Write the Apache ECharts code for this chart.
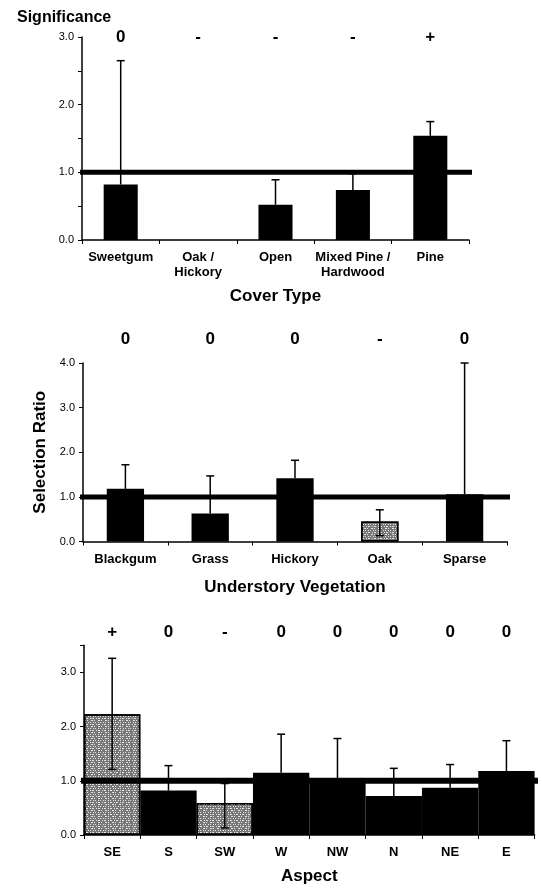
<!DOCTYPE html>
<html>
<head>
<meta charset="utf-8">
<script src="https://cdn.jsdelivr.net/npm/echarts@6/dist/echarts.min.js"></script>
<style>
  html, body { margin: 0; padding: 0; background: #fff; }
  #main { width: 542px; height: 890px; }
</style>
</head>
<body>
<div id="main"></div>
<script>
// cover type panel
const coverTypes = ['Sweetgum', 'Oak /\nHickory', 'Open', 'Mixed Pine /\nHardwood', 'Pine'];
const coverSig = ['0', '-', '-', '-', '+'];
const coverRatio = [0.82, 0, 0.52, 0.74, 1.54];
const coverUpper = [2.65, null, 0.89, 0.98, 1.75];
const coverLower = [null, null, null, null, null];
const coverShaded = [false, false, false, false, false];

// understory panel
const understory = ['Blackgum', 'Grass', 'Hickory', 'Oak', 'Sparse'];
const understorySig = ['0', '0', '0', '-', '0'];
const understoryRatio = [1.18, 0.63, 1.42, 0.45, 1.06];
const understoryUpper = [1.72, 1.47, 1.82, 0.71, 4.0];
const understoryLower = [null, null, null, 0.13, null];
const understoryShaded = [false, false, false, true, false];

// aspect panel
const aspects = ['SE', 'S', 'SW', 'W', 'NW', 'N', 'NE', 'E'];
const aspectSig = ['+', '0', '-', '0', '0', '0', '0', '0'];
const aspectRatio = [2.23, 0.82, 0.59, 1.15, 1.02, 0.72, 0.87, 1.18];
const aspectUpper = [3.26, 1.28, 0.95, 1.86, 1.78, 1.23, 1.30, 1.74];
const aspectLower = [1.21, null, 0.13, null, null, null, null, null];
const aspectShaded = [true, false, true, false, false, false, false, false];

const refValue = 1.0; // selection ratio of 1 = no preference

const FONT = '"Liberation Sans", Arial, Helvetica, sans-serif';

const panels = [
  { cats: coverTypes, sig: coverSig, ratio: coverRatio, upper: coverUpper, lower: coverLower, shaded: coverShaded,
    name: 'Cover Type', grid: { left: 82, top: 37, width: 387, height: 203 },
    yMax: 3, yStep: 0.5, barWidth: '44%', sigMargin: 0, nameGap: 48, refExt: [-0.005, 1.044], refWidth: 5 },
  { cats: understory, sig: understorySig, ratio: understoryRatio, upper: understoryUpper, lower: understoryLower, shaded: understoryShaded,
    name: 'Understory Vegetation', grid: { left: 83, top: 363, width: 424, height: 178.5 },
    yMax: 4, yStep: 1, barWidth: '44%', sigMargin: 24, nameGap: 37, refExt: [-0.007, 1.011], refWidth: 5 },
  { cats: aspects, sig: aspectSig, ratio: aspectRatio, upper: aspectUpper, lower: aspectLower, shaded: aspectShaded,
    name: 'Aspect', grid: { left: 84, top: 645.3, width: 450.6, height: 189.7 },
    yMax: 3.5, yStep: 1, barWidth: '100%', sigMargin: 13, nameGap: 33, refExt: [-0.009, 1.014], refWidth: 6 }
];

// speckled grey fill
const stipple = {
  symbol: 'rect',
  symbolSize: 1,
  dashArrayX: [[1, 1, 2, 2], [2, 1, 1, 3], [1, 2, 1, 1]],
  dashArrayY: [1, 1],
  rotation: 0,
  color: 'rgba(255,255,255,0.8)'
};

const grid = [], xAxis = [], yAxis = [], series = [];
const n = panels.length;

panels.forEach((p, i) => {
  grid.push(p.grid);

  // categories along the bottom
  xAxis.push({
    type: 'category', gridIndex: i, data: p.cats,
    name: p.name, nameLocation: 'middle', nameGap: p.nameGap,
    nameTextStyle: { fontFamily: FONT, fontWeight: 'bold', fontSize: 17, color: '#000' },
    axisLine: { lineStyle: { color: '#000', width: 1.5 } },
    axisTick: { show: true, length: 4, lineStyle: { color: '#000', width: 1 } },
    axisLabel: { fontFamily: FONT, fontWeight: 'bold', fontSize: 13, color: '#000', margin: 10, lineHeight: 15, interval: 0 }
  });
  yAxis.push({
    type: 'value', gridIndex: i, min: 0, max: p.yMax, interval: p.yStep,
    name: i === 1 ? 'Selection Ratio' : '', nameLocation: 'middle', nameGap: 34,
    nameTextStyle: { fontFamily: FONT, fontWeight: 'bold', fontSize: 17, color: '#000' },
    splitLine: { show: false },
    axisLine: { show: true, lineStyle: { color: '#000', width: 1.5 } },
    axisTick: { show: true, length: 4, lineStyle: { color: '#000', width: 1 } },
    axisLabel: {
      fontFamily: FONT, fontSize: 11, color: '#000', margin: 8,
      formatter: v => (Math.abs(v - Math.round(v)) < 1e-9 ? v.toFixed(1) : '')
    }
  });

  // bars
  series.push({
    type: 'bar', xAxisIndex: i, yAxisIndex: i, z: 2,
    barWidth: p.barWidth,
    data: p.ratio.map((v, k) => ({
      value: v,
      itemStyle: p.shaded[k]
        ? { color: '#777', borderColor: '#000', borderWidth: 1.5, decal: stipple }
        : { color: '#000' }
    })),
    silent: true, animation: false
  });

  // error bars
  series.push({
    type: 'custom', xAxisIndex: i, yAxisIndex: i, z: 3,
    data: p.upper.map((hi, k) => hi == null ? null :
      [k, p.lower[k] == null ? p.ratio[k] : p.lower[k], hi, p.lower[k] == null ? 0 : 1]),
    renderItem: function (params, api) {
      const top = api.coord([api.value(0), api.value(2)]);
      const bot = api.coord([api.value(0), api.value(1)]);
      const cap = 4;
      const style = { stroke: '#000', lineWidth: 1.5 };
      const kids = [
        { type: 'line', shape: { x1: top[0], y1: top[1], x2: bot[0], y2: bot[1] }, style: style },
        { type: 'line', shape: { x1: top[0] - cap, y1: top[1], x2: top[0] + cap, y2: top[1] }, style: style }
      ];
      if (api.value(3)) {
        kids.push({ type: 'line', shape: { x1: bot[0] - cap, y1: bot[1], x2: bot[0] + cap, y2: bot[1] }, style: style });
      }
      return { type: 'group', children: kids };
    },
    silent: true, animation: false
  });
});

// significance row above each panel
panels.forEach((p, i) => {
  xAxis.push({
    type: 'category', gridIndex: i, position: 'top', data: p.sig,
    axisLine: { show: false }, axisTick: { show: false },
    axisLabel: { fontFamily: FONT, fontWeight: 'bold', fontSize: 17, color: '#000', margin: p.sigMargin, verticalAlign: 'middle', interval: 0 }
  });
});

// hidden value axes carrying the reference line at ratio 1
panels.forEach((p, i) => {
  xAxis.push({ type: 'value', gridIndex: i, min: 0, max: 1, show: false });
  series.push({
    type: 'line', xAxisIndex: 2 * n + i, yAxisIndex: i, z: 5, clip: false,
    data: [[p.refExt[0], refValue], [p.refExt[1], refValue]],
    symbol: 'none', lineStyle: { color: '#000', width: p.refWidth },
    silent: true, animation: false
  });
});

const chart = echarts.init(document.getElementById('main'));
chart.setOption({
  backgroundColor: '#fff',
  animation: false,
  title: {
    text: 'Significance', left: 12, top: 5,
    textStyle: { fontFamily: FONT, fontWeight: 'bold', fontSize: 16, color: '#000' }
  },
  grid: grid,
  xAxis: xAxis,
  yAxis: yAxis,
  series: series
});
</script>
</body>
</html>
